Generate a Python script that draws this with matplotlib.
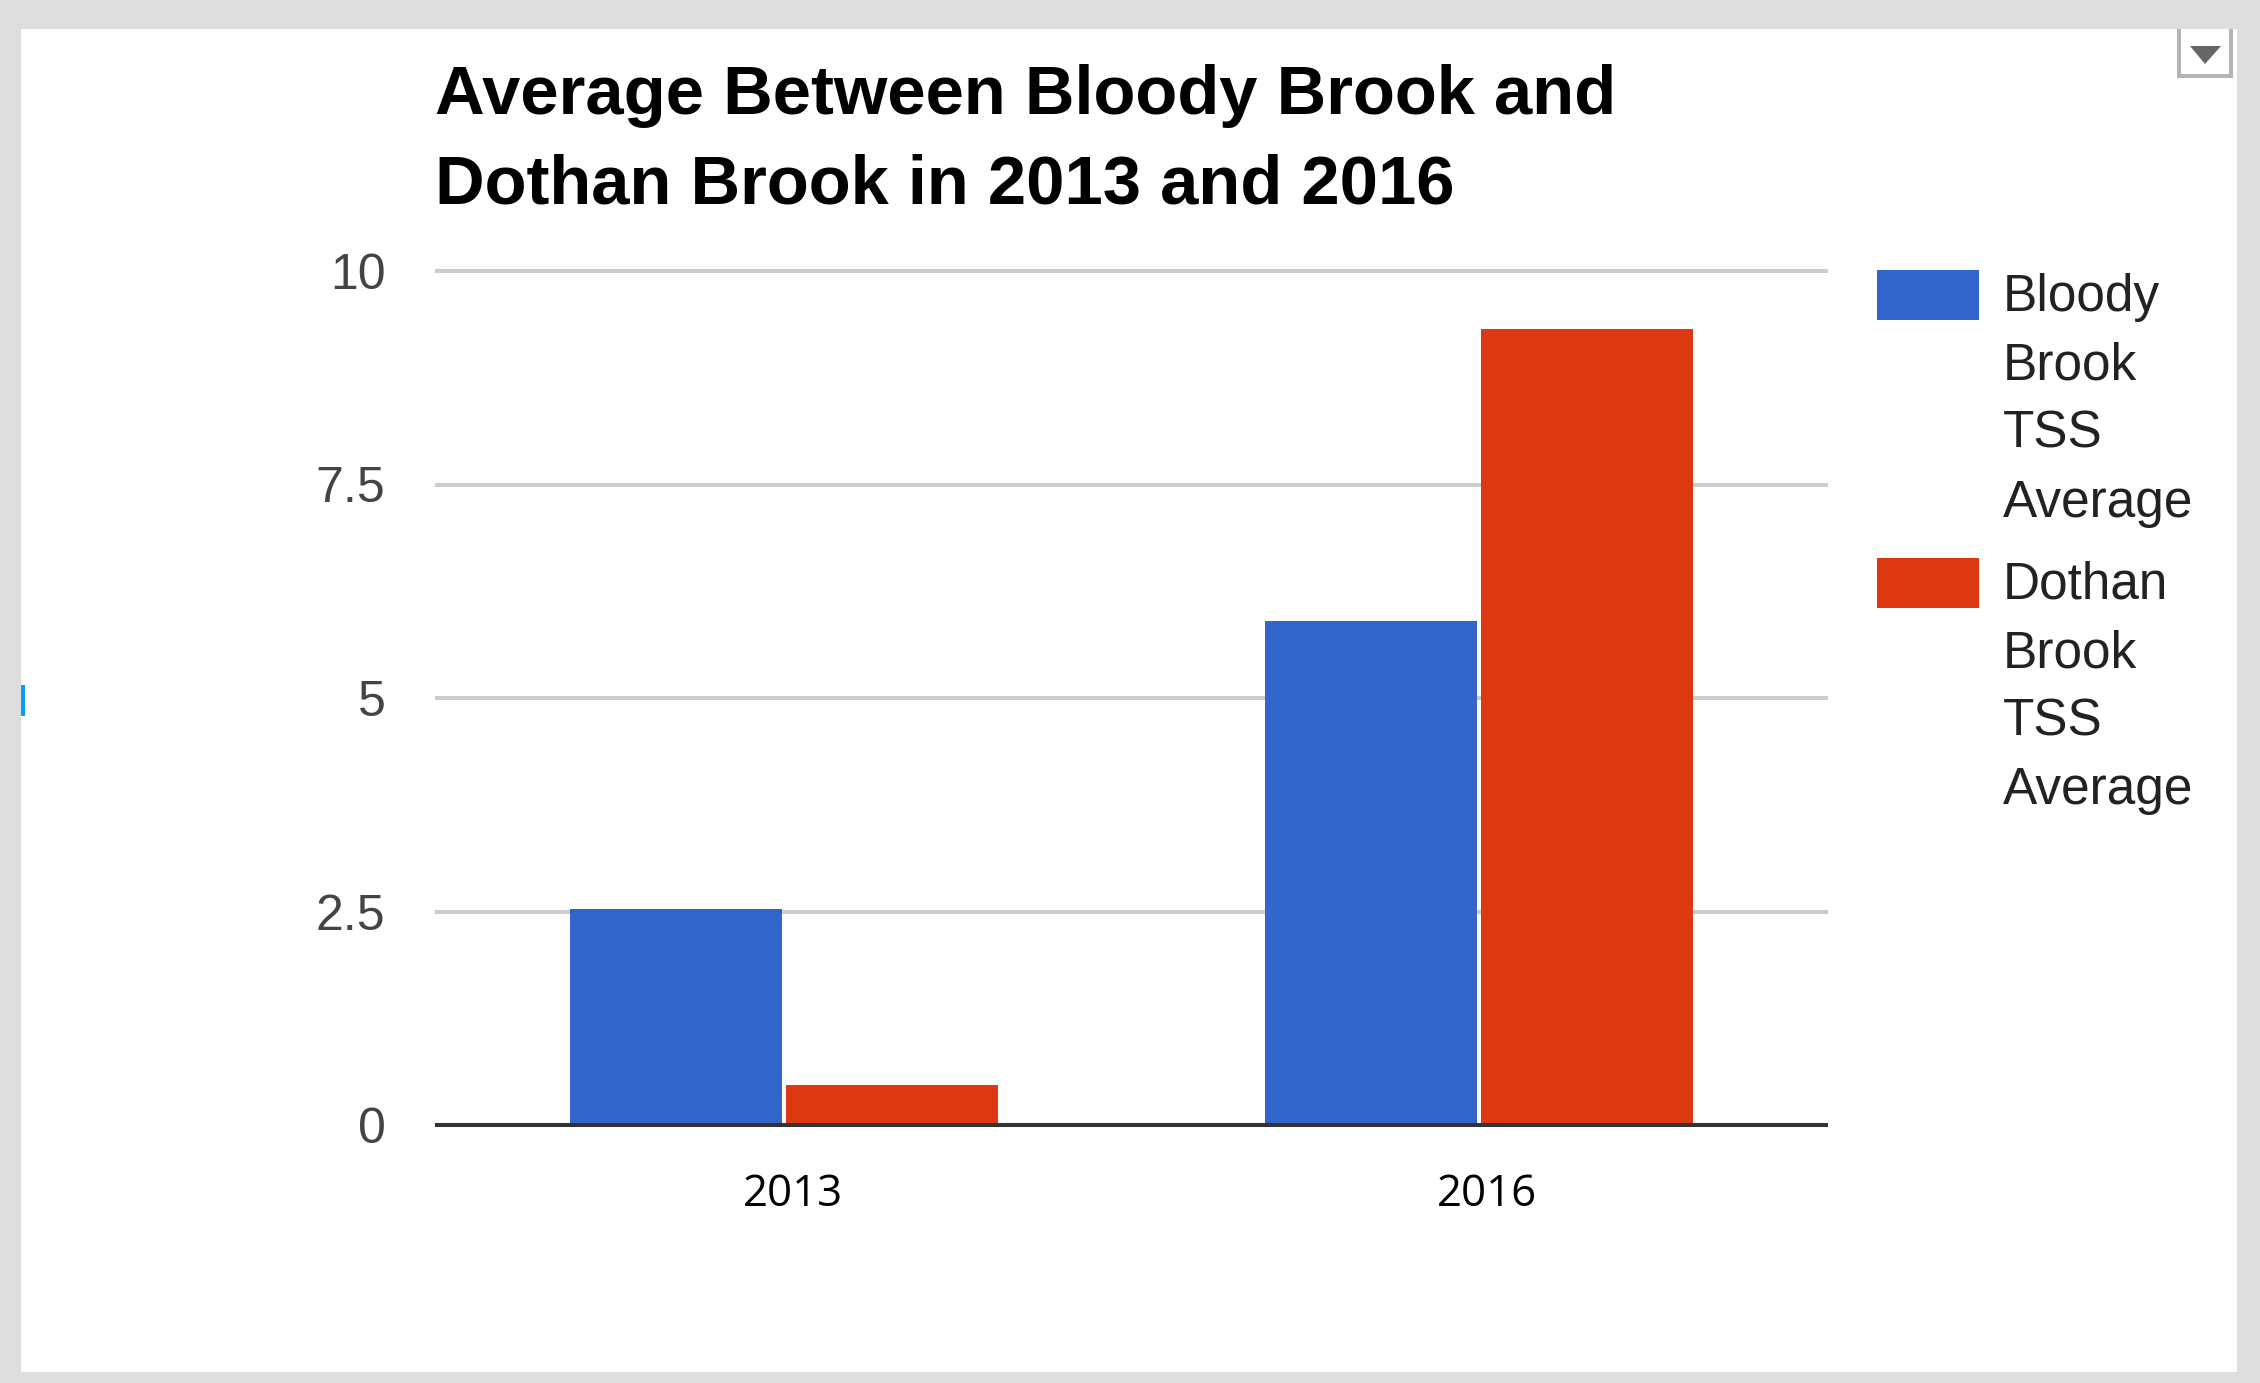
import matplotlib
matplotlib.use('Agg')
from matplotlib import pyplot as plt
from matplotlib.patches import Rectangle, Polygon
import numpy as np

years = ['2013', '2016']
bloody = [2.53, 5.90]
dothan = [0.47, 9.32]
series = ['Bloody Brook TSS Average', 'Dothan Brook TSS Average']
colors = ['#3366CC', '#DC3912']
yticks = [0, 2.5, 5, 7.5, 10]
ytick_labels = ['0', '2.5', '5', '7.5', '10']
title_lines = ['Average Between Bloody Brook and', 'Dothan Brook in 2013 and 2016']

W, H = 2260, 1383
fig = plt.figure(figsize=(W / 100, H / 100), dpi=100)
fig.patch.set_facecolor('#DDDDDD')

def px(x, y):
    # pixel (from top-left) -> figure fraction
    return x / W, 1 - y / H

# white card
fig.patches.append(Rectangle(px(21, 1372), 2216 / W, 1343 / H, transform=fig.transFigure,
                             facecolor='white', edgecolor='none', zorder=-10))
# little blue mark on the left edge
fig.patches.append(Rectangle(px(21, 716), 4 / W, 31 / H, transform=fig.transFigure,
                             facecolor='#0A9BFF', edgecolor='none', zorder=1))
# dropdown button top right
for (x0, y0, w, h) in [(2177, 29, 4, 49), (2229, 29, 4, 49), (2177, 74, 56, 4)]:
    fig.patches.append(Rectangle(px(x0, y0 + h), w / W, h / H, transform=fig.transFigure,
                                 facecolor='#B4B4B4', edgecolor='none', zorder=1))
fig.patches.append(Polygon([px(2190, 46), px(2221, 46), px(2205, 64)], closed=True,
                           transform=fig.transFigure, facecolor='#666666', edgecolor='none', zorder=1))

ax = fig.add_axes([437 / W, 1 - 1125 / H, 1389 / W, 854 / H])
ax.set_facecolor('none')

x = np.arange(len(years))
w = 0.305
ax.bar(x - 0.1555, bloody, w, color=colors[0], zorder=2)
ax.bar(x + 0.1555, dothan, w, color=colors[1], zorder=2)

ax.set_xlim(-0.5, 1.5)
ax.set_ylim(0, 10)
ax.set_yticks(yticks)
ax.set_yticklabels(ytick_labels, family='Liberation Sans', fontsize=36, color='#444444')
ax.set_xticks(x + 0.012)
ax.set_xticklabels(years, family='Open Sans', fontsize=31.5, color='black')
ax.tick_params(axis='y', length=0, pad=37)
ax.tick_params(axis='x', length=0, pad=34)
ax.grid(axis='y', color='#CCCCCC', linewidth=2.9, zorder=0)
for gl in ax.get_ygridlines():
    gl.set_clip_on(False)
ax.set_axisbelow(True)
ax.axhline(0, color='#333333', linewidth=2.9, zorder=3, clip_on=False)
for s in ax.spines.values():
    s.set_visible(False)

# title, two lines
for i, line in enumerate(title_lines):
    fig.text(435 / W, 1 - (114 + 90 * i) / H, line, family='Liberation Sans', weight='bold',
             fontsize=49.5, color='black', va='baseline', ha='left')

# legend, words wrapped one per line
for i, name in enumerate(series):
    top = 270 + 288 * i
    fig.patches.append(Rectangle(px(1877, top + 50), 102 / W, 50 / H, transform=fig.transFigure,
                                 facecolor=colors[i], edgecolor='none', zorder=2))
    for j, word in enumerate(name.split()):
        fig.text(2003 / W, 1 - (top + 41 + 68.5 * j) / H, word, family='Liberation Sans',
                 fontsize=37, color='#222222', va='baseline', ha='left')

plt.savefig('out.png', dpi=100, facecolor=fig.get_facecolor())
